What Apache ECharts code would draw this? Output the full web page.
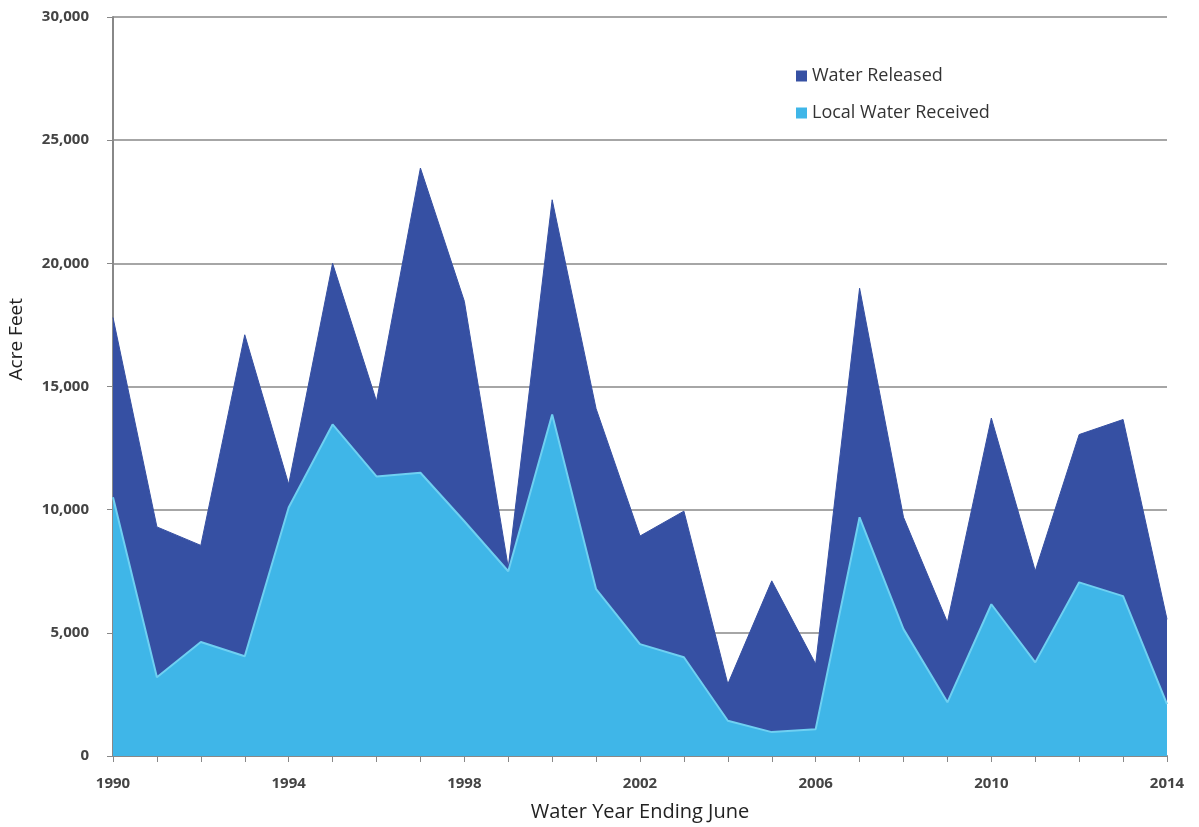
<!DOCTYPE html>
<html>
<head>
<meta charset="utf-8">
<title>Water Released vs Local Water Received</title>
<script src="https://cdn.jsdelivr.net/npm/echarts@6/dist/echarts.min.js"></script>
<style>
    html, body {margin: 0; padding: 0; background: #fff;}
    #chart {width: 1199px; height: 827px;}
</style>
</head>
<body>
<div id="chart"></div>
<script>
// water years ending June
var years = ['1990','1991','1992','1993','1994','1995','1996','1997','1998','1999','2000','2001','2002',
    '2003','2004','2005','2006','2007','2008','2009','2010','2011','2012','2013','2014'];

// acre feet (bottom layer)
var localReceived = [10500, 3200, 4630, 4050, 10090, 13460, 11350, 11500, 9530, 7500, 13860, 6770, 4540,
    4010, 1430, 970, 1090, 9690, 5150, 2180, 6160, 3800, 7050, 6490, 2110];

// acre feet released, stacked on top of local water
var released = [7300, 6100, 3920, 13050, 940, 6540, 3050, 12370, 8930, 150, 8720, 7330, 4390,
    5930, 1490, 6140, 2640, 9300, 4540, 3250, 7560, 3710, 6000, 7170, 3440];

var yTicks = [0, 5000, 10000, 15000, 20000, 25000, 30000];

var labelFont = 'Open Sans, Liberation Sans, sans-serif';

var myChart = echarts.init(document.getElementById('chart'));

var option = {
    animation: false,
    backgroundColor: '#fff',
    grid: {left: 113, right: 32, top: 17, bottom: 70},
    legend: {
        orient: 'vertical',
        left: 791,
        top: 62,
        itemGap: 19,
        itemWidth: 11,
        itemHeight: 11,
        icon: 'rect',
        data: ['Water Released', 'Local Water Received'],
        textStyle: {fontFamily: labelFont, fontSize: 18, color: '#333'}
    },
    xAxis: {
        type: 'category',
        data: years,
        boundaryGap: false,
        name: 'Water Year Ending June',
        nameLocation: 'middle',
        nameGap: 46,
        nameTextStyle: {fontFamily: labelFont, fontSize: 20, color: '#222'},
        axisLine: {lineStyle: {color: '#888', width: 2}},
        axisTick: {show: true, interval: 0, length: 6, lineStyle: {color: '#888'}},
        axisLabel: {
            interval: 3,
            fontFamily: labelFont,
            fontSize: 15,
            fontWeight: 'bold',
            color: '#444',
            margin: 20
        }
    },
    yAxis: {
        type: 'value',
        min: yTicks[0],
        max: yTicks[yTicks.length - 1],
        interval: 5000,
        axisLine: {show: true, lineStyle: {color: '#888', width: 2}},
        axisTick: {show: true, length: 6, lineStyle: {color: '#888'}},
        splitLine: {lineStyle: {color: '#a6a6a6', width: 2}},
        axisLabel: {
            fontFamily: labelFont,
            fontSize: 15,
            fontWeight: 'bold',
            color: '#444',
            margin: 24,
            formatter: function (v) {
                return v.toLocaleString('en-US');
            }
        }
    },
    graphic: [{
        type: 'text',
        left: 7,
        top: 298,
        rotation: Math.PI / 2,
        style: {
            text: 'Acre Feet',
            font: '19px Open Sans, Liberation Sans, sans-serif',
            fill: '#222'
        }
    }],
    series: [
        {
            name: 'Local Water Received',
            type: 'line',
            stack: 'total',
            data: localReceived,
            showSymbol: false,
            lineStyle: {width: 2, color: '#6fd0f2'},
            itemStyle: {color: '#3fb6e8'},
            areaStyle: {color: '#3fb6e8', opacity: 1},
            z: 3
        },
        {
            name: 'Water Released',
            type: 'line',
            stack: 'total',
            data: released,
            showSymbol: false,
            lineStyle: {width: 1, color: '#3650a3'},
            itemStyle: {color: '#3650a3'},
            areaStyle: {color: '#3650a3', opacity: 1},
            z: 2
        }
    ]
};

myChart.setOption(option);
</script>
</body>
</html>
